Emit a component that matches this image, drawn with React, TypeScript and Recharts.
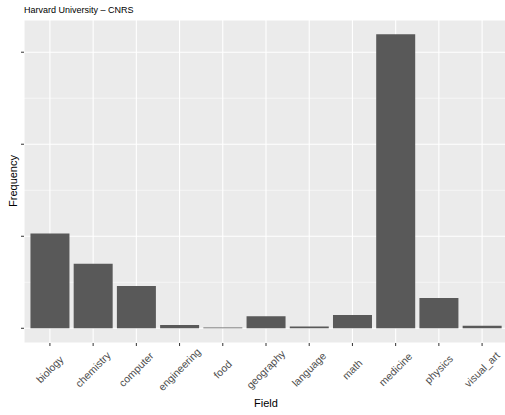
import { BarChart, Bar, XAxis, YAxis, CartesianGrid } from "recharts";

const fields = [
  "biology",
  "chemistry",
  "computer",
  "engineering",
  "food",
  "geography",
  "language",
  "math",
  "medicine",
  "physics",
  "visual_art",
];
const frequency = [1030, 700, 460, 35, 8, 130, 18, 145, 3195, 330, 28];
const majorTicks = [0, 1000, 2000, 3000];
const minorTicks = [500, 1500, 2500];
const yDomain = [-160, 3350];

const data = fields.map((field, i) => ({ field, value: frequency[i] }));

const FONT = "'Liberation Sans', Arial, Helvetica, sans-serif";

// minor gridlines, placed like the y scale does
function minorLines(args: any) {
  const s = args?.yAxis?.scale;
  if (typeof s === "function") return minorTicks.map((t) => s(t));
  if (s && typeof s.map === "function") return minorTicks.map((t) => s.map(t));
  const off = args.offset;
  return minorTicks.map(
    (t) => off.top + (1 - (t - yDomain[0]) / (yDomain[1] - yDomain[0])) * off.height
  );
}

// labels centred on the tick, rotated 45 degrees
function FieldTick(props: any) {
  const { x, y, payload } = props;
  const ax = x + 2.5;
  const ay = y + 24;
  return (
    <text
      x={ax}
      y={ay}
      transform={`rotate(-45, ${ax}, ${ay})`}
      textAnchor="middle"
      fontSize={10.5}
      fill="#4D4D4D"
      fontFamily={FONT}
    >
      {payload.value}
    </text>
  );
}

export default function App() {
  return (
    <div
      style={{
        position: "absolute",
        left: 0,
        top: 0,
        width: 505,
        height: 415,
        overflow: "hidden",
        background: "#fff",
      }}
    >
      <BarChart
        width={508}
        height={415}
        data={data}
        margin={{ top: 20, right: 0, bottom: 0, left: 0 }}
        barCategoryGap="5%"
      >
        <CartesianGrid
          fill="#EBEBEB"
          stroke="#FFFFFF"
          strokeWidth={0.55}
          vertical={false}
          horizontalCoordinatesGenerator={minorLines}
        />
        <CartesianGrid stroke="#FFFFFF" strokeWidth={1.1} />
        <XAxis
          dataKey="field"
          height={72}
          axisLine={false}
          tickLine={{ stroke: "#333333" }}
          tickSize={3}
          padding={{ left: 4.3, right: 4.3 }}
          interval={0}
          tick={<FieldTick />}
        />
        <YAxis
          width={24}
          domain={yDomain}
          ticks={majorTicks}
          allowDataOverflow
          axisLine={false}
          tickLine={{ stroke: "#333333" }}
          tickSize={3}
          tickFormatter={() => ""}
        />
        <Bar dataKey="value" fill="#595959" isAnimationActive={false} />
      </BarChart>
      <svg
        width={505}
        height={415}
        style={{ position: "absolute", left: 0, top: 0, pointerEvents: "none" }}
        fontFamily={FONT}
      >
        <text x={24} y={13} fontSize={9} fill="#000">
          Harvard University – CNRS
        </text>
        <text
          x={17}
          y={181}
          fontSize={11}
          fill="#000"
          textAnchor="middle"
          transform="rotate(-90, 17, 181)"
        >
          Frequency
        </text>
        <text x={266} y={407} fontSize={11} fill="#000" textAnchor="middle">
          Field
        </text>
      </svg>
    </div>
  );
}
